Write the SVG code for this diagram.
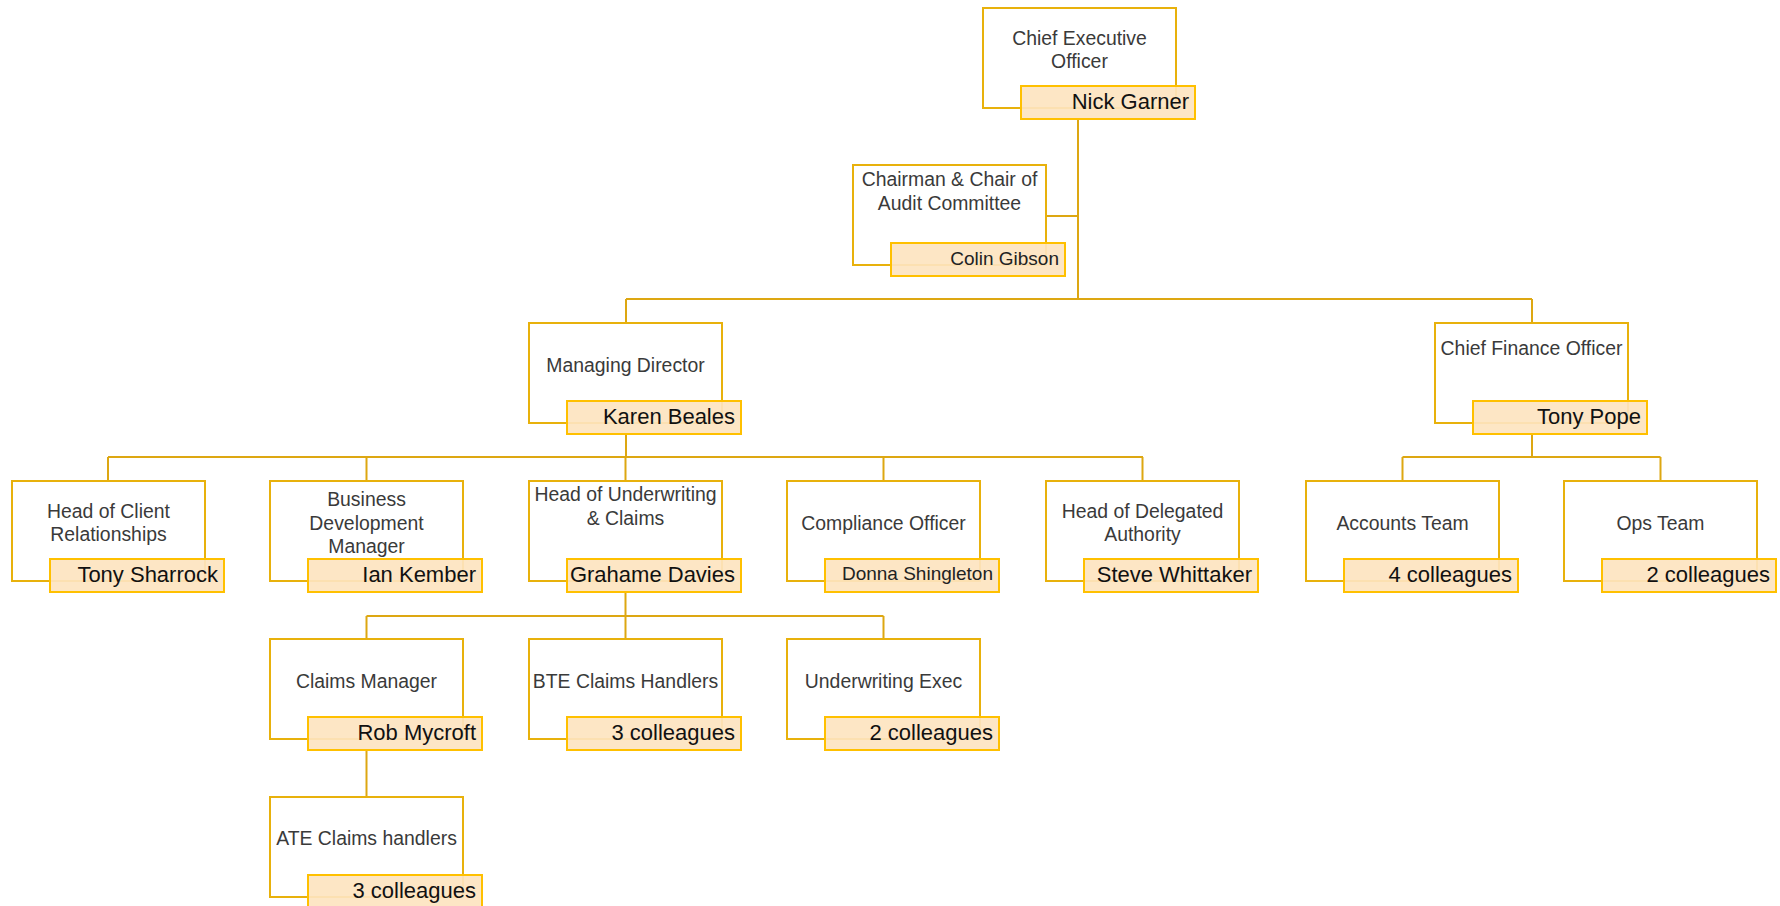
<svg xmlns="http://www.w3.org/2000/svg" width="1780" height="906" viewBox="0 0 1780 906">
<style>
.box{fill:#fff;stroke:#E8B10C;stroke-width:2}
.nb{fill:#FDE4C0;fill-opacity:0.92;stroke:#FFC000;stroke-width:2}
.t{font-family:"Liberation Sans",Arial,sans-serif;font-size:19.4px;fill:#3a3a3a;text-anchor:middle}
.n{font-family:"Liberation Sans",Arial,sans-serif;font-size:22px;fill:#111;text-anchor:end}
.ns{font-family:"Liberation Sans",Arial,sans-serif;font-size:19px;fill:#222;text-anchor:end}
.c{fill:none;stroke:#DDA712;stroke-width:2}
</style>
<rect width="1780" height="906" fill="#fff"/>
<g id="connectors" class="c">
<path d="M1078 119V299M1046 216H1078"/>
<path d="M626 299H1532M626 299V323M1532 299V323"/>
<path d="M626 434V457M108 457H1143M108 457V481M366.5 457V481M625.5 457V481M883.5 457V481M1142.5 457V481"/>
<path d="M1532 434V457M1402.5 457H1660.5M1402.5 457V481M1660.5 457V481"/>
<path d="M625.5 592V616M366.5 616H883.5M366.5 616V639M625.5 616V639M883.5 616V639"/>
<path d="M366.5 750V797"/>
</g>
<g id="ceo"><rect class="box" x="983" y="8" width="193" height="100"/><text class="t" x="1079.5" y="45">Chief Executive</text><text class="t" x="1079.5" y="68">Officer</text><rect class="nb" x="1021" y="86" width="174" height="33"/><text class="n" x="1189" y="109">Nick Garner</text></g>
<g id="chair"><rect class="box" x="853" y="165" width="193" height="100"/><text class="t" x="949.5" y="186">Chairman &amp; Chair of</text><text class="t" x="949.5" y="210">Audit Committee</text><rect class="nb" x="891" y="243" width="174" height="33"/><text class="ns" x="1059" y="265">Colin Gibson</text></g>
<g id="md"><rect class="box" x="529" y="323" width="193" height="100"/><text class="t" x="625.5" y="372">Managing Director</text><rect class="nb" x="567" y="401" width="174" height="33"/><text class="n" x="735" y="424">Karen Beales</text></g>
<g id="cfo"><rect class="box" x="1435" y="323" width="193" height="100"/><text class="t" x="1531.5" y="355">Chief Finance Officer</text><rect class="nb" x="1473" y="401" width="174" height="33"/><text class="n" x="1641" y="424">Tony Pope</text></g>
<g id="hcr"><rect class="box" x="12" y="481" width="193" height="100"/><text class="t" x="108.5" y="518">Head of Client</text><text class="t" x="108.5" y="541">Relationships</text><rect class="nb" x="50" y="559" width="174" height="33"/><text class="n" x="218" y="582">Tony Sharrock</text></g>
<g id="bdm"><rect class="box" x="270" y="481" width="193" height="100"/><text class="t" x="366.5" y="506">Business</text><text class="t" x="366.5" y="530">Development</text><text class="t" x="366.5" y="553">Manager</text><rect class="nb" x="308" y="559" width="174" height="33"/><text class="n" x="476" y="582">Ian Kember</text></g>
<g id="huc"><rect class="box" x="529" y="481" width="193" height="100"/><text class="t" x="625.5" y="501">Head of Underwriting</text><text class="t" x="625.5" y="525">&amp; Claims</text><rect class="nb" x="567" y="559" width="174" height="33"/><text class="n" x="735" y="582">Grahame Davies</text></g>
<g id="co"><rect class="box" x="787" y="481" width="193" height="100"/><text class="t" x="883.5" y="530">Compliance Officer</text><rect class="nb" x="825" y="559" width="174" height="33"/><text class="ns" x="993" y="580">Donna Shingleton</text></g>
<g id="hda"><rect class="box" x="1046" y="481" width="193" height="100"/><text class="t" x="1142.5" y="518">Head of Delegated</text><text class="t" x="1142.5" y="541">Authority</text><rect class="nb" x="1084" y="559" width="174" height="33"/><text class="n" x="1252" y="582">Steve Whittaker</text></g>
<g id="acc"><rect class="box" x="1306" y="481" width="193" height="100"/><text class="t" x="1402.5" y="530">Accounts Team</text><rect class="nb" x="1344" y="559" width="174" height="33"/><text class="n" x="1512" y="582">4 colleagues</text></g>
<g id="ops"><rect class="box" x="1564" y="481" width="193" height="100"/><text class="t" x="1660.5" y="530">Ops Team</text><rect class="nb" x="1602" y="559" width="174" height="33"/><text class="n" x="1770" y="582">2 colleagues</text></g>
<g id="cm"><rect class="box" x="270" y="639" width="193" height="100"/><text class="t" x="366.5" y="688">Claims Manager</text><rect class="nb" x="308" y="717" width="174" height="33"/><text class="n" x="476" y="740">Rob Mycroft</text></g>
<g id="bte"><rect class="box" x="529" y="639" width="193" height="100"/><text class="t" x="625.5" y="688">BTE Claims Handlers</text><rect class="nb" x="567" y="717" width="174" height="33"/><text class="n" x="735" y="740">3 colleagues</text></g>
<g id="uw"><rect class="box" x="787" y="639" width="193" height="100"/><text class="t" x="883.5" y="688">Underwriting Exec</text><rect class="nb" x="825" y="717" width="174" height="33"/><text class="n" x="993" y="740">2 colleagues</text></g>
<g id="ate"><rect class="box" x="270" y="797" width="193" height="100"/><text class="t" x="366.5" y="845">ATE Claims handlers</text><rect class="nb" x="308" y="875" width="174" height="33"/><text class="n" x="476" y="898">3 colleagues</text></g>
</svg>
